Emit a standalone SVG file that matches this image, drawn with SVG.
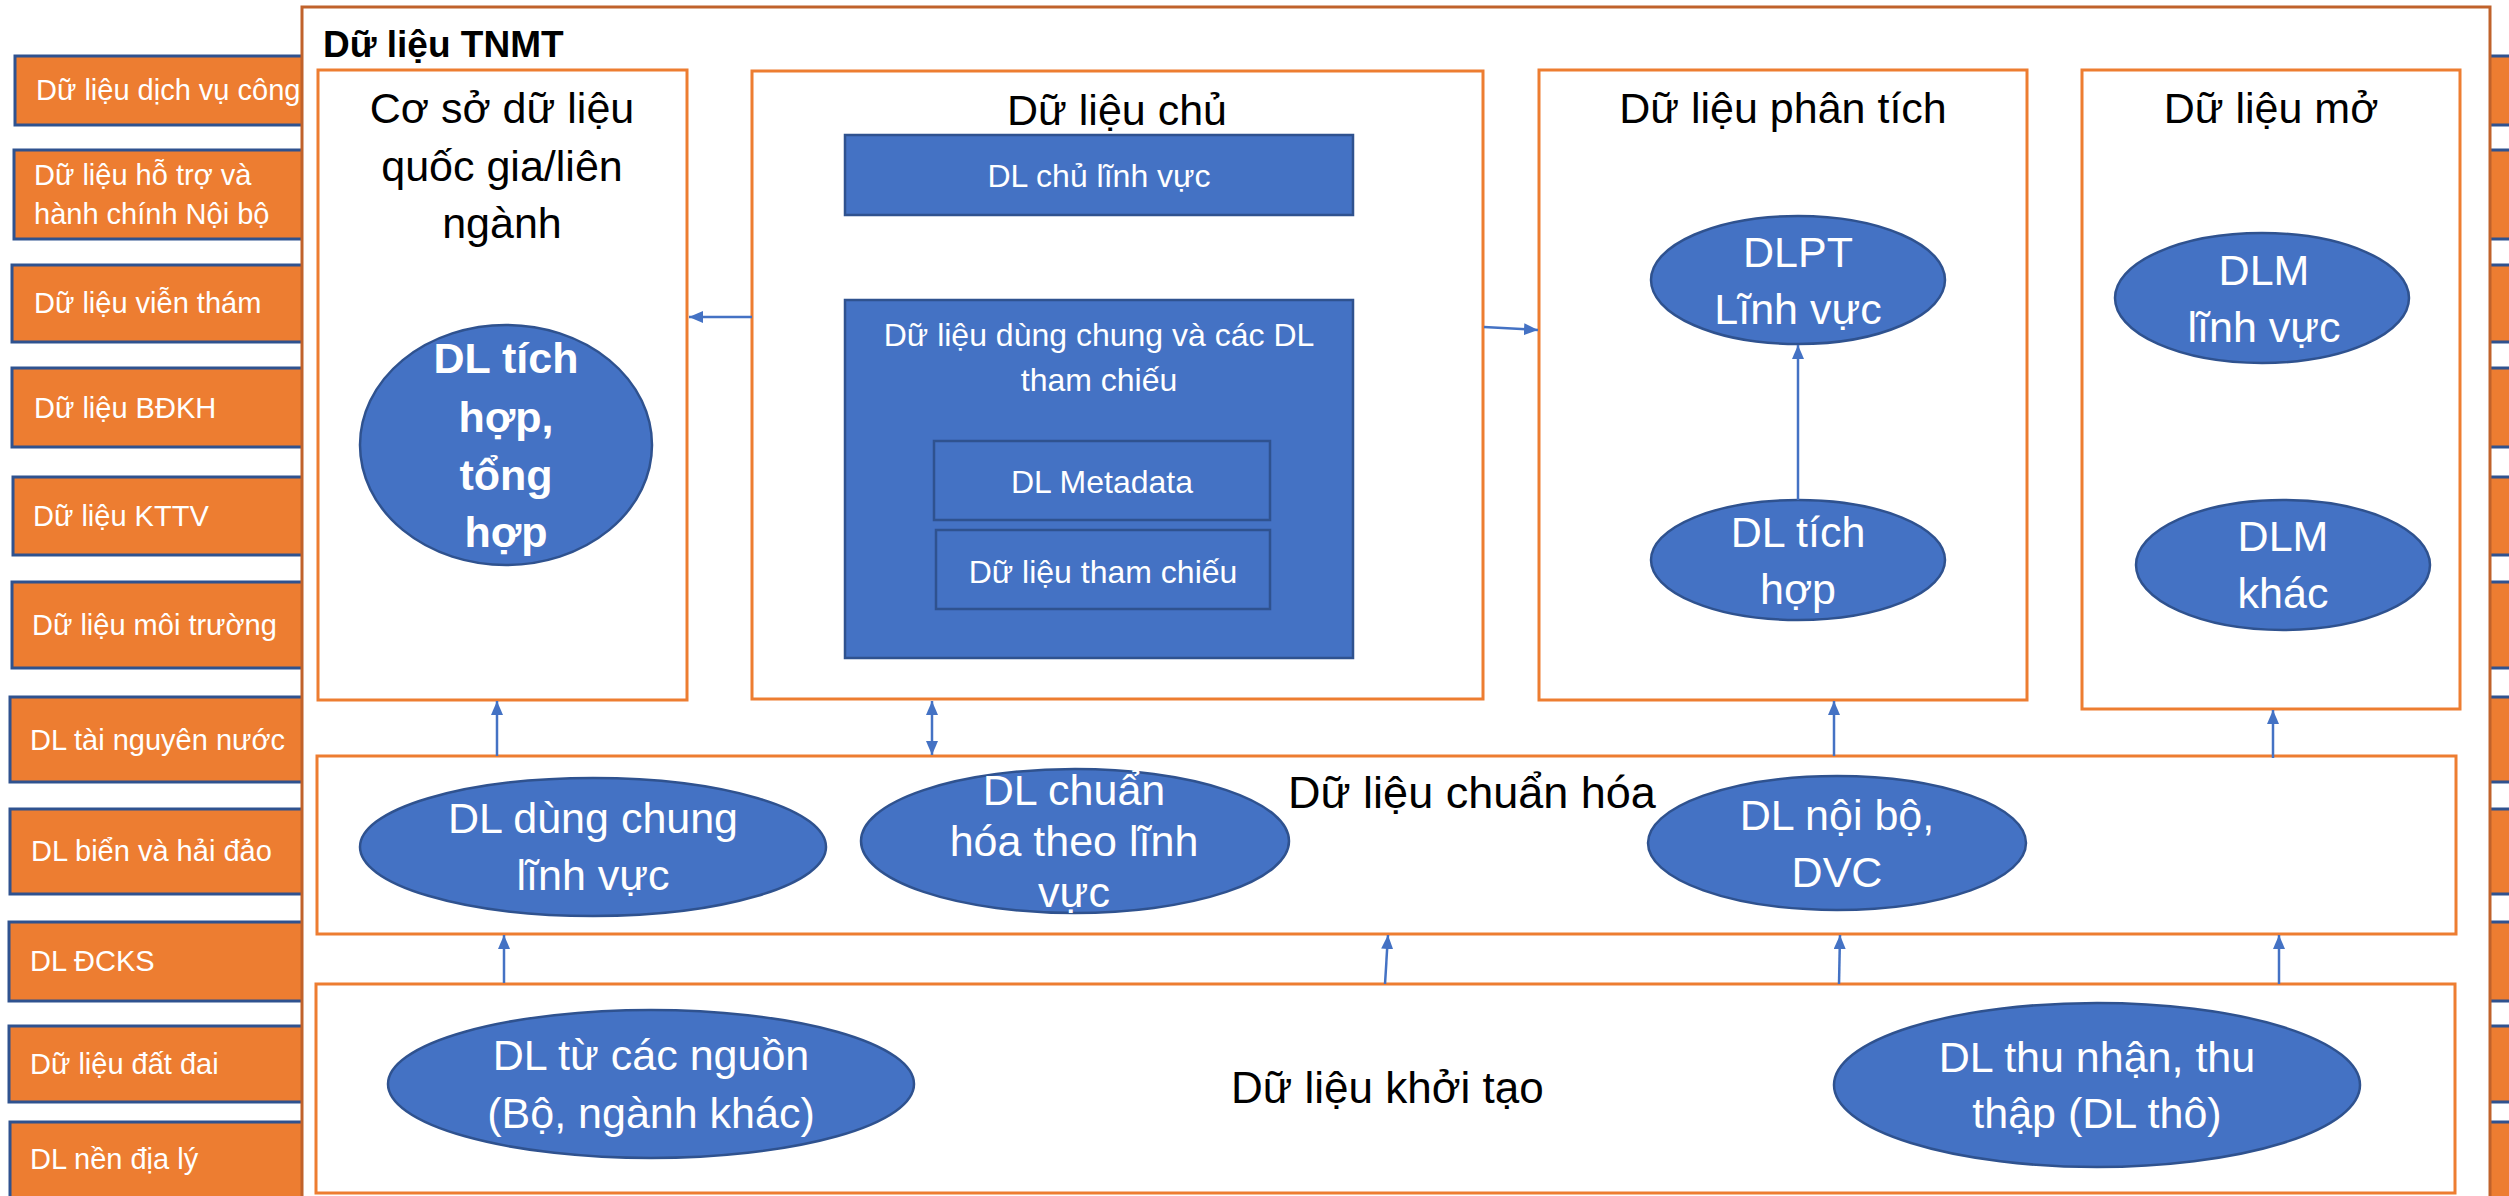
<svg xmlns="http://www.w3.org/2000/svg" width="2509" height="1196" viewBox="0 0 2509 1196">
<style>
text{font-family:"Liberation Sans",Arial,sans-serif}
.src{fill:#ED7D31;stroke:#2F528F;stroke-width:3}
.srct{font-size:29px;fill:#fff}
.outer{fill:#fff;stroke:#C0622B;stroke-width:3}
.panel{fill:#fff;stroke:#ED7D31;stroke-width:3}
.ell{fill:#4472C4;stroke:#2F528F;stroke-width:2.5}
.blk{fill:#4472C4;stroke:#2F528F;stroke-width:2.5}
.ttl{font-size:43px;fill:#000;text-anchor:middle}
.wt{font-size:43px;fill:#fff;text-anchor:middle}
.wm{font-size:32px;fill:#fff;text-anchor:middle}
.conn line{stroke:#4472C4;stroke-width:2.5;fill:none;marker-end:url(#ah)}
</style>
<defs>
<marker id="ah" viewBox="0 0 14 12" refX="14" refY="6" markerWidth="14" markerHeight="12" markerUnits="userSpaceOnUse" orient="auto-start-reverse">
<path d="M0,0 L14,6 L0,12 z" fill="#4472C4"/>
</marker>
</defs>

<g id="sources-left">
<g id="src1"><rect class="src" x="15" y="56" width="400" height="69"/><text class="srct" x="36" y="100">Dữ liệu dịch vụ công</text></g>
<g id="src2"><rect class="src" x="14" y="150" width="400" height="89"/><text class="srct" x="34" y="185">Dữ liệu hỗ trợ và</text><text class="srct" x="34" y="224">hành chính Nội bộ</text></g>
<g id="src3"><rect class="src" x="12" y="265" width="400" height="77"/><text class="srct" x="34" y="313">Dữ liệu viễn thám</text></g>
<g id="src4"><rect class="src" x="12" y="368" width="400" height="79"/><text class="srct" x="34" y="418">Dữ liệu BĐKH</text></g>
<g id="src5"><rect class="src" x="13" y="477" width="400" height="78"/><text class="srct" x="33" y="526">Dữ liệu KTTV</text></g>
<g id="src6"><rect class="src" x="12" y="582" width="400" height="86"/><text class="srct" x="32" y="635">Dữ liệu môi trường</text></g>
<g id="src7"><rect class="src" x="10" y="697" width="400" height="85"/><text class="srct" x="30" y="750">DL tài nguyên nước</text></g>
<g id="src8"><rect class="src" x="10" y="809" width="400" height="85"/><text class="srct" x="31" y="861">DL biển và hải đảo</text></g>
<g id="src9"><rect class="src" x="9" y="922" width="400" height="79"/><text class="srct" x="30" y="971">DL ĐCKS</text></g>
<g id="src10"><rect class="src" x="9" y="1026" width="400" height="76"/><text class="srct" x="30" y="1074">Dữ liệu đất đai</text></g>
<g id="src11"><rect class="src" x="10" y="1122" width="400" height="90"/><text class="srct" x="30" y="1169">DL nền địa lý</text></g>
</g>

<g id="sources-right">
<rect class="src" x="2300" y="56" width="400" height="69"/>
<rect class="src" x="2300" y="150" width="400" height="89"/>
<rect class="src" x="2300" y="265" width="400" height="77"/>
<rect class="src" x="2300" y="368" width="400" height="79"/>
<rect class="src" x="2300" y="477" width="400" height="78"/>
<rect class="src" x="2300" y="582" width="400" height="86"/>
<rect class="src" x="2300" y="697" width="400" height="85"/>
<rect class="src" x="2300" y="809" width="400" height="85"/>
<rect class="src" x="2300" y="922" width="400" height="79"/>
<rect class="src" x="2300" y="1026" width="400" height="76"/>
<rect class="src" x="2300" y="1122" width="400" height="90"/>
</g>

<g id="tnmt">
<rect class="outer" x="302" y="7" width="2188" height="1210"/>
<text x="323" y="57" font-size="37" font-weight="bold" fill="#000">Dữ liệu TNMT</text>
</g>

<g id="csdl-quocgia">
<rect class="panel" x="318" y="70" width="369" height="630"/>
<text class="ttl" x="502" y="123">Cơ sở dữ liệu</text>
<text class="ttl" x="502" y="181">quốc gia/liên</text>
<text class="ttl" x="502" y="238">ngành</text>
<g id="dl-tich-hop-tong-hop">
<ellipse class="ell" cx="506" cy="445" rx="146" ry="120"/>
<text class="wt" x="506" y="373" font-size="40" font-weight="bold">DL tích</text>
<text class="wt" x="506" y="432" font-size="40" font-weight="bold">hợp,</text>
<text class="wt" x="506" y="490" font-size="40" font-weight="bold">tổng</text>
<text class="wt" x="506" y="547" font-size="40" font-weight="bold">hợp</text>
</g>
</g>

<g id="du-lieu-chu">
<rect class="panel" x="752" y="71" width="731" height="628"/>
<text class="ttl" x="1117" y="125">Dữ liệu chủ</text>
<g id="dl-chu-linh-vuc">
<rect class="blk" x="845" y="135" width="508" height="80"/>
<text class="wm" x="1099" y="187">DL chủ lĩnh vực</text>
</g>
<g id="dl-dung-chung-tham-chieu">
<rect class="blk" x="845" y="300" width="508" height="358"/>
<text class="wm" x="1099" y="346">Dữ liệu dùng chung và các DL</text>
<text class="wm" x="1099" y="391">tham chiếu</text>
</g>
<g id="dl-metadata">
<rect class="blk" x="934" y="441" width="336" height="79"/>
<text class="wm" x="1102" y="493">DL Metadata</text>
</g>
<g id="dl-tham-chieu">
<rect class="blk" x="936" y="530" width="334" height="79"/>
<text class="wm" x="1103" y="583">Dữ liệu tham chiếu</text>
</g>
</g>

<g id="du-lieu-phan-tich">
<rect class="panel" x="1539" y="70" width="488" height="630"/>
<text class="ttl" x="1783" y="123">Dữ liệu phân tích</text>
<g id="dlpt-linh-vuc">
<ellipse class="ell" cx="1798" cy="280" rx="147" ry="64"/>
<text class="wt" x="1798" y="267">DLPT</text>
<text class="wt" x="1798" y="324">Lĩnh vực</text>
</g>
<g id="dl-tich-hop">
<ellipse class="ell" cx="1798" cy="560" rx="147" ry="60"/>
<text class="wt" x="1798" y="547">DL tích</text>
<text class="wt" x="1798" y="604">hợp</text>
</g>
</g>

<g id="du-lieu-mo">
<rect class="panel" x="2082" y="70" width="378" height="639"/>
<text class="ttl" x="2271" y="123">Dữ liệu mở</text>
<g id="dlm-linh-vuc">
<ellipse class="ell" cx="2262" cy="298" rx="147" ry="65"/>
<text class="wt" x="2264" y="285">DLM</text>
<text class="wt" x="2264" y="342">lĩnh vực</text>
</g>
<g id="dlm-khac">
<ellipse class="ell" cx="2283" cy="565" rx="147" ry="65"/>
<text class="wt" x="2283" y="551">DLM</text>
<text class="wt" x="2283" y="608">khác</text>
</g>
</g>

<g id="du-lieu-chuan-hoa">
<rect class="panel" x="317" y="756" width="2139" height="178"/>
<text x="1288" y="808" font-size="45" fill="#000">Dữ liệu chuẩn hóa</text>
<g id="dl-dung-chung-linh-vuc">
<ellipse class="ell" cx="593" cy="847" rx="233" ry="69"/>
<text class="wt" x="593" y="833">DL dùng chung</text>
<text class="wt" x="593" y="890">lĩnh vực</text>
</g>
<g id="dl-chuan-hoa-linh-vuc">
<ellipse class="ell" cx="1075" cy="841" rx="214" ry="72"/>
<text class="wt" x="1074" y="805" font-size="42">DL chuẩn</text>
<text class="wt" x="1074" y="856" font-size="42">hóa theo lĩnh</text>
<text class="wt" x="1074" y="907" font-size="42">vực</text>
</g>
<g id="dl-noi-bo-dvc">
<ellipse class="ell" cx="1837" cy="843" rx="189" ry="67"/>
<text class="wt" x="1837" y="830">DL nội bộ,</text>
<text class="wt" x="1837" y="887">DVC</text>
</g>
</g>

<g id="du-lieu-khoi-tao">
<rect class="panel" x="316" y="984" width="2139" height="209"/>
<text x="1231" y="1103" font-size="44" fill="#000">Dữ liệu khởi tạo</text>
<g id="dl-tu-cac-nguon">
<ellipse class="ell" cx="651" cy="1084" rx="263" ry="74"/>
<text class="wt" x="651" y="1070">DL từ các nguồn</text>
<text class="wt" x="651" y="1128">(Bộ, ngành khác)</text>
</g>
<g id="dl-thu-nhan">
<ellipse class="ell" cx="2097" cy="1085" rx="263" ry="82"/>
<text class="wt" x="2097" y="1072">DL thu nhận, thu</text>
<text class="wt" x="2097" y="1128">thập (DL thô)</text>
</g>
</g>

<g id="connectors" class="conn">
<line x1="752" y1="317" x2="689" y2="317"/>
<line x1="1484" y1="327" x2="1538" y2="330"/>
<line x1="1798" y1="500" x2="1798" y2="345"/>
<line x1="497" y1="756" x2="497" y2="701"/>
<line x1="932" y1="755" x2="932" y2="701" style="marker-start:url(#ah)"/>
<line x1="1834" y1="756" x2="1834" y2="701"/>
<line x1="2273" y1="758" x2="2273" y2="710"/>
<line x1="504" y1="983" x2="504" y2="935"/>
<line x1="1385" y1="984" x2="1388" y2="935"/>
<line x1="1839" y1="984" x2="1840" y2="935"/>
<line x1="2279" y1="984" x2="2279" y2="935"/>
</g>
</svg>
